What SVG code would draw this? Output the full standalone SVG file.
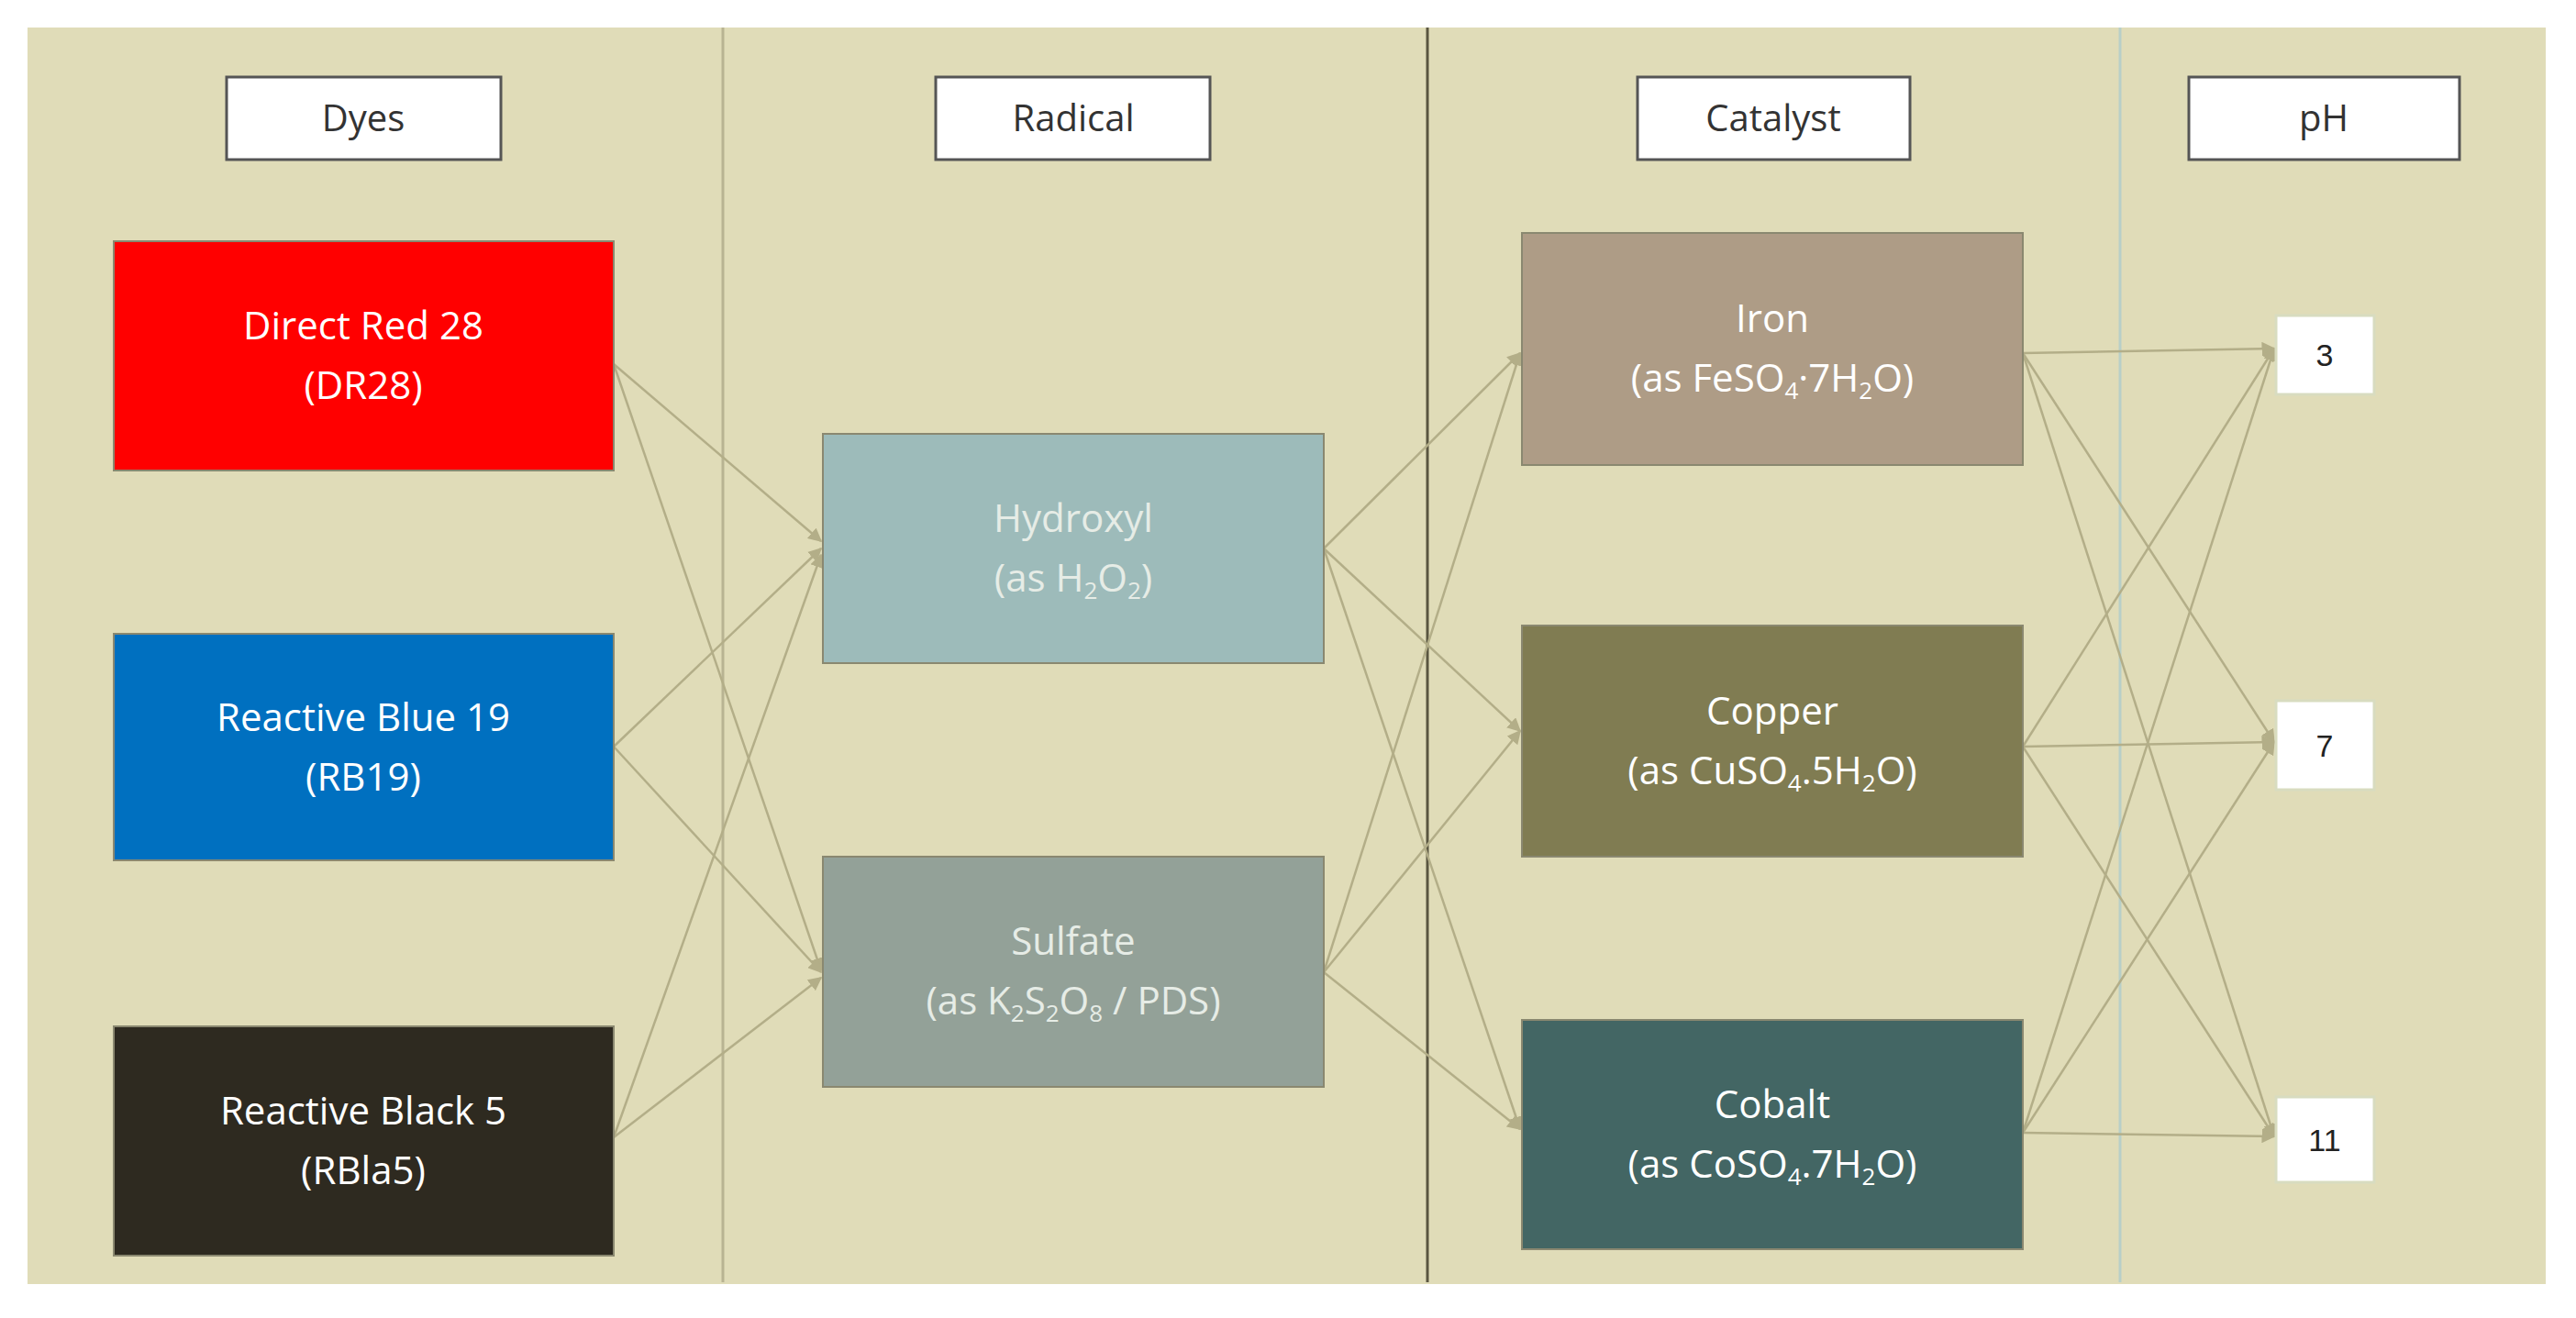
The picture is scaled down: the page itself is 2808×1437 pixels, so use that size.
<svg xmlns="http://www.w3.org/2000/svg" width="2808" height="1437" viewBox="0 0 2808 1437">
<style>
.hdr{fill:#fff;stroke:#555;stroke-width:3}
.ht{font-family:"Open Sans","Liberation Sans",sans-serif;font-size:40px;fill:#333;text-anchor:middle}
.bt{font-family:"Open Sans","Liberation Sans",sans-serif;font-size:42px;fill:#fff;text-anchor:middle}
.lt{fill:#e6ece6}
.box{stroke:#8a8870;stroke-width:2}
.ph{fill:#fff;stroke:#d8dcc0;stroke-width:3}
.pt{font-family:"Liberation Sans",sans-serif;font-size:34px;fill:#222;text-anchor:middle}
.c{stroke:#b3ae88;stroke-width:2.5;fill:none;marker-end:url(#a)}
.s{font-size:26px}
</style>
<defs>
<marker id="a" viewBox="0 0 10 10" refX="9" refY="5" markerWidth="6" markerHeight="6" orient="auto" markerUnits="strokeWidth">
<path d="M0,0 L10,5 L0,10 z" fill="#b3ae88"/>
</marker>
</defs>
<rect width="2808" height="1437" fill="#fff"/>
<rect x="30" y="30" width="2745" height="1370" fill="#e0dcb8"/>
<line x1="788" y1="30" x2="788" y2="1398" stroke="#b8b392" stroke-width="3"/>
<line x1="1556" y1="30" x2="1556" y2="1398" stroke="#5a5640" stroke-width="3"/>
<line x1="2311" y1="30" x2="2311" y2="1398" stroke="#b8cfc8" stroke-width="3"/>

<g id="h-dyes"><rect class="hdr" x="247" y="84" width="299" height="90"/><text class="ht" x="396" y="143">Dyes</text></g>
<g id="h-radical"><rect class="hdr" x="1020" y="84" width="299" height="90"/><text class="ht" x="1170" y="143">Radical</text></g>
<g id="h-catalyst"><rect class="hdr" x="1785" y="84" width="297" height="90"/><text class="ht" x="1933" y="143">Catalyst</text></g>
<g id="h-ph"><rect class="hdr" x="2386" y="84" width="295" height="90"/><text class="ht" x="2533" y="143">pH</text></g>

<g id="connectors">
<path class="c" d="M669,397 L895,590"/>
<path class="c" d="M669,397 L895,1058"/>
<path class="c" d="M669,814 L895,598"/>
<path class="c" d="M669,814 L895,1060"/>
<path class="c" d="M669,1240 L895,605"/>
<path class="c" d="M669,1240 L895,1066"/>
<path class="c" d="M1443,598 L1657,385"/>
<path class="c" d="M1443,598 L1657,797"/>
<path class="c" d="M1443,598 L1657,1231"/>
<path class="c" d="M1443,1060 L1657,385"/>
<path class="c" d="M1443,1060 L1657,797"/>
<path class="c" d="M1443,1060 L1657,1231"/>
<path class="c" d="M2205,385 L2479,380"/>
<path class="c" d="M2205,385 L2479,809"/>
<path class="c" d="M2205,385 L2479,1239"/>
<path class="c" d="M2205,814 L2479,380"/>
<path class="c" d="M2205,814 L2479,809"/>
<path class="c" d="M2205,814 L2479,1239"/>
<path class="c" d="M2205,1235 L2479,380"/>
<path class="c" d="M2205,1235 L2479,809"/>
<path class="c" d="M2205,1235 L2479,1239"/>
</g>

<g id="dr28"><rect class="box" x="124" y="263" width="545" height="250" fill="#ff0000"/><text class="bt" x="396" y="370">Direct Red 28</text><text class="bt" x="396" y="435">(DR28)</text></g>
<g id="rb19"><rect class="box" x="124" y="691" width="545" height="247" fill="#0070c0"/><text class="bt" x="396" y="797">Reactive Blue 19</text><text class="bt" x="396" y="862">(RB19)</text></g>
<g id="rbla5"><rect class="box" x="124" y="1119" width="545" height="250" fill="#2e2a20"/><text class="bt" x="396" y="1226">Reactive Black 5</text><text class="bt" x="396" y="1291">(RBla5)</text></g>

<g id="hydroxyl"><rect class="box" x="897" y="473" width="546" height="250" fill="#9dbbba"/><text class="bt lt" x="1170" y="580">Hydroxyl</text><text class="bt lt" x="1170" y="645">(as H<tspan class="s" dy="8">2</tspan><tspan dy="-8">O</tspan><tspan class="s" dy="8">2</tspan><tspan dy="-8">)</tspan></text></g>
<g id="sulfate"><rect class="box" x="897" y="934" width="546" height="251" fill="#93a198"/><text class="bt lt" x="1170" y="1041">Sulfate</text><text class="bt lt" x="1170" y="1106">(as K<tspan class="s" dy="8">2</tspan><tspan dy="-8">S</tspan><tspan class="s" dy="8">2</tspan><tspan dy="-8">O</tspan><tspan class="s" dy="8">8</tspan><tspan dy="-8"> / PDS)</tspan></text></g>

<g id="iron"><rect class="box" x="1659" y="254" width="546" height="253" fill="#ae9c86"/><text class="bt" x="1932" y="362">Iron</text><text class="bt" x="1932" y="427">(as FeSO<tspan class="s" dy="8">4</tspan><tspan dy="-8">·7H</tspan><tspan class="s" dy="8">2</tspan><tspan dy="-8">O)</tspan></text></g>
<g id="copper"><rect class="box" x="1659" y="682" width="546" height="252" fill="#807c52" stroke="#4a4830"/><text class="bt" x="1932" y="790">Copper</text><text class="bt" x="1932" y="855">(as CuSO<tspan class="s" dy="8">4</tspan><tspan dy="-8">.5H</tspan><tspan class="s" dy="8">2</tspan><tspan dy="-8">O)</tspan></text></g>
<g id="cobalt"><rect class="box" x="1659" y="1112" width="546" height="250" fill="#436664"/><text class="bt" x="1932" y="1219">Cobalt</text><text class="bt" x="1932" y="1284">(as CoSO<tspan class="s" dy="8">4</tspan><tspan dy="-8">.7H</tspan><tspan class="s" dy="8">2</tspan><tspan dy="-8">O)</tspan></text></g>

<g id="ph3"><rect class="ph" x="2481" y="344" width="107" height="86"/><text class="pt" x="2534" y="399">3</text></g>
<g id="ph7"><rect class="ph" x="2481" y="764" width="107" height="97" stroke="#b8d8d8"/><text class="pt" x="2534" y="825">7</text></g>
<g id="ph11"><rect class="ph" x="2481" y="1196" width="107" height="93" stroke="#e8e4a0"/><text class="pt" x="2534" y="1255">11</text></g>
</svg>
